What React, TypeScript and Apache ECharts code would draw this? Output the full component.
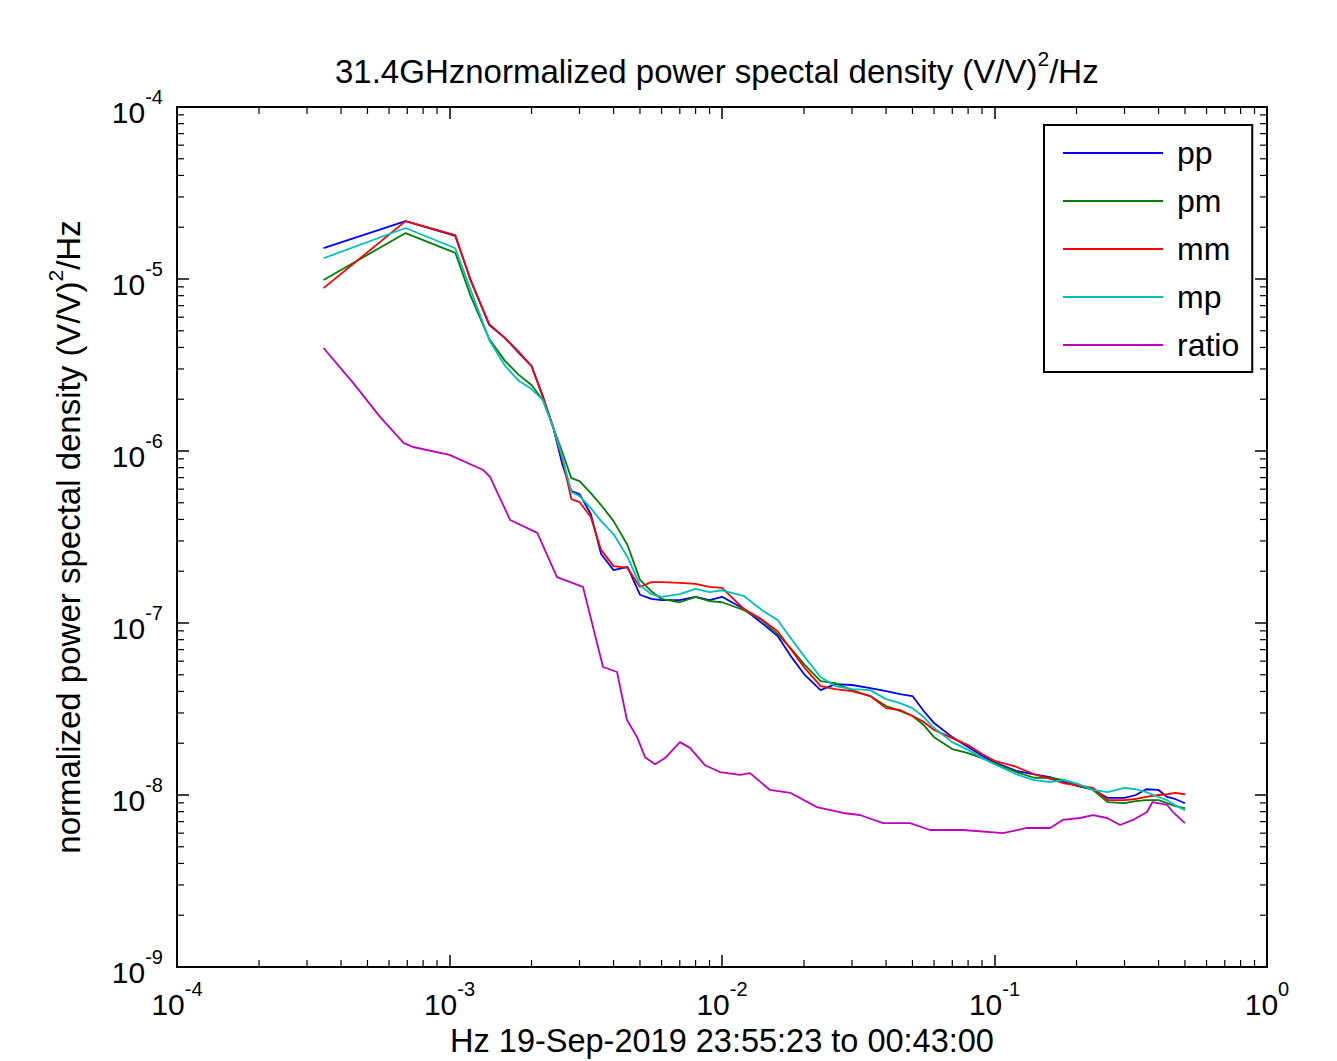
import React, { useEffect, useRef } from 'react';
import * as echarts from 'echarts';

// frequency grid (Hz) shared by the four channel spectra
const freq = [
  3.45e-4, 6.9e-4, 1.05e-3, 1.2e-3, 1.4e-3, 1.6e-3, 1.8e-3, 2.0e-3, 2.2e-3, 2.4e-3,
  2.6e-3, 2.8e-3, 3.0e-3, 3.3e-3, 3.6e-3, 4.0e-3, 4.5e-3, 5.0e-3, 5.5e-3, 6.0e-3,
  7.0e-3, 8.0e-3, 9.0e-3, 1.0e-2, 1.2e-2, 1.4e-2, 1.6e-2, 1.8e-2, 2.0e-2, 2.3e-2,
  2.6e-2, 3.0e-2, 3.5e-2, 4.0e-2, 4.5e-2, 5.0e-2, 5.5e-2, 6.0e-2, 7.0e-2, 8.0e-2,
  9.0e-2, 0.1, 0.12, 0.14, 0.16, 0.18, 0.2, 0.23, 0.26, 0.3,
  0.33, 0.36, 0.4, 0.43, 0.46, 0.5,
];

const pp = [
  1.51e-5, 2.17e-5, 1.78e-5, 9.74e-6, 5.39e-6, 4.53e-6, 3.71e-6, 3.12e-6, 2.09e-6, 1.38e-6,
  8.27e-7, 5.85e-7, 5.61e-7, 4.30e-7, 2.52e-7, 2.03e-7, 2.12e-7, 1.46e-7, 1.38e-7, 1.36e-7,
  1.36e-7, 1.42e-7, 1.36e-7, 1.42e-7, 1.21e-7, 1.00e-7, 8.39e-8, 6.33e-8, 5.05e-8, 4.07e-8,
  4.41e-8, 4.36e-8, 4.18e-8, 4.02e-8, 3.86e-8, 3.76e-8, 3.08e-8, 2.62e-8, 2.17e-8, 1.90e-8,
  1.69e-8, 1.55e-8, 1.38e-8, 1.32e-8, 1.27e-8, 1.19e-8, 1.13e-8, 1.08e-8, 9.61e-9, 9.61e-9,
  1.00e-8, 1.08e-8, 1.07e-8, 9.74e-9, 9.48e-9, 8.96e-9,
];

const pm = [
  9.87e-6, 1.85e-5, 1.42e-5, 7.84e-6, 4.47e-6, 3.33e-6, 2.76e-6, 2.42e-6, 1.98e-6, 1.38e-6,
  9.74e-7, 6.95e-7, 6.68e-7, 5.69e-7, 4.85e-7, 3.91e-7, 2.84e-7, 1.78e-7, 1.53e-7, 1.38e-7,
  1.32e-7, 1.42e-7, 1.34e-7, 1.32e-7, 1.19e-7, 1.04e-7, 8.61e-8, 7.05e-8, 5.77e-8, 4.59e-8,
  4.47e-8, 4.07e-8, 3.76e-8, 3.29e-8, 3.08e-8, 2.88e-8, 2.55e-8, 2.17e-8, 1.85e-8, 1.75e-8,
  1.64e-8, 1.53e-8, 1.36e-8, 1.26e-8, 1.26e-8, 1.22e-8, 1.14e-8, 1.07e-8, 9.09e-9, 8.96e-9,
  9.21e-9, 9.33e-9, 9.33e-9, 8.96e-9, 8.61e-9, 8.39e-9,
];

const mm = [
  8.85e-6, 2.17e-5, 1.80e-5, 9.61e-6, 5.47e-6, 4.53e-6, 3.76e-6, 3.12e-6, 2.06e-6, 1.38e-6,
  8.85e-7, 5.25e-7, 5.05e-7, 4.13e-7, 2.66e-7, 2.14e-7, 2.09e-7, 1.62e-7, 1.73e-7, 1.73e-7,
  1.71e-7, 1.69e-7, 1.62e-7, 1.60e-7, 1.21e-7, 1.05e-7, 8.96e-8, 6.95e-8, 5.54e-8, 4.30e-8,
  4.13e-8, 4.02e-8, 3.76e-8, 3.20e-8, 3.12e-8, 2.88e-8, 2.66e-8, 2.39e-8, 2.14e-8, 1.95e-8,
  1.73e-8, 1.58e-8, 1.46e-8, 1.32e-8, 1.24e-8, 1.17e-8, 1.14e-8, 1.10e-8, 9.33e-9, 9.33e-9,
  9.48e-9, 9.74e-9, 1.00e-8, 1.01e-8, 1.03e-8, 1.01e-8,
];

const mp = [
  1.32e-5, 1.98e-5, 1.51e-5, 8.50e-6, 4.41e-6, 3.12e-6, 2.55e-6, 2.29e-6, 1.98e-6, 1.38e-6,
  9.09e-7, 5.77e-7, 5.47e-7, 4.66e-7, 3.91e-7, 3.29e-7, 2.42e-7, 1.66e-7, 1.47e-7, 1.42e-7,
  1.47e-7, 1.58e-7, 1.51e-7, 1.55e-7, 1.44e-7, 1.19e-7, 1.04e-7, 8.05e-8, 6.42e-8, 4.85e-8,
  4.30e-8, 4.13e-8, 4.07e-8, 3.61e-8, 3.42e-8, 3.20e-8, 2.84e-8, 2.45e-8, 2.03e-8, 1.83e-8,
  1.64e-8, 1.51e-8, 1.32e-8, 1.22e-8, 1.19e-8, 1.22e-8, 1.17e-8, 1.07e-8, 1.04e-8, 1.10e-8,
  1.08e-8, 1.04e-8, 9.74e-9, 9.33e-9, 8.73e-9, 8.16e-9,
];

const ratioFreq = [
  3.45e-4, 4.43e-4, 5.56e-4, 6.8e-4, 7.35e-4, 1.0e-3, 1.33e-3, 1.41e-3, 1.67e-3, 2.1e-3,
  2.48e-3, 3.09e-3, 3.66e-3, 4.12e-3, 4.48e-3, 4.88e-3, 5.22e-3, 5.68e-3, 6.18e-3, 7.01e-3,
  7.63e-3, 8.66e-3, 9.83e-3, 1.164e-2, 1.267e-2, 1.5e-2, 1.78e-2, 2.23e-2, 2.78e-2, 3.21e-2,
  3.9e-2, 4.9e-2, 5.8e-2, 7.66e-2, 0.1075, 0.1316, 0.16, 0.178, 0.206, 0.23,
  0.259, 0.289, 0.322, 0.363, 0.38, 0.43, 0.452, 0.5,
];

const ratio = [
  3.97e-6, 2.49e-6, 1.58e-6, 1.11e-6, 1.055e-6, 9.5e-7, 7.75e-7, 7.06e-7, 3.97e-7, 3.34e-7,
  1.85e-7, 1.62e-7, 5.55e-8, 5.19e-8, 2.73e-8, 2.17e-8, 1.66e-8, 1.51e-8, 1.64e-8, 2.03e-8,
  1.88e-8, 1.49e-8, 1.36e-8, 1.31e-8, 1.34e-8, 1.07e-8, 1.03e-8, 8.5e-9, 7.86e-9, 7.65e-9,
  6.87e-9, 6.87e-9, 6.26e-9, 6.26e-9, 6.01e-9, 6.43e-9, 6.43e-9, 7.16e-9, 7.35e-9, 7.65e-9,
  7.35e-9, 6.69e-9, 7.16e-9, 7.96e-9, 9.1e-9, 8.75e-9, 7.96e-9, 6.87e-9,
];

const seriesNames = ['pp', 'pm', 'mm', 'mp', 'ratio'];
const seriesColors = ['#0000ff', '#008000', '#ff0000', '#00bfbf', '#bf00bf'];

const titleText = '31.4GHznormalized power spectal density (V/V)';
const yNameText = 'normalized power spectal density (V/V)';
const xNameText = 'Hz 19-Sep-2019 23:55:23 to 00:43:00';

const X_MIN = 1e-4;
const X_MAX = 1;
const Y_MIN = 1e-9;
const Y_MAX = 1e-4;

const FONT = "'Liberation Sans', Arial, Helvetica, sans-serif";

// minor tick positions (2..9 within each decade)
const minorX: number[] = [];
for (let n = -4; n < 0; n++) for (let k = 2; k <= 9; k++) minorX.push(k * Math.pow(10, n));
const minorY: number[] = [];
for (let n = -9; n < -4; n++) for (let k = 2; k <= 9; k++) minorY.push(k * Math.pow(10, n));

const expLabel = (v: number) => {
  const e = Math.round(Math.log10(v));
  return '{b|10}{e|' + e + '}';
};

const labelRich = {
  b: { fontSize: 30, lineHeight: 40, verticalAlign: 'bottom', fontFamily: FONT, fontWeight: 'normal', color: '#000' },
  e: { fontSize: 20, lineHeight: 20, verticalAlign: 'top', fontFamily: FONT, fontWeight: 'normal', color: '#000' },
};

const titleRich = {
  a: { fontSize: 33, lineHeight: 40, verticalAlign: 'bottom', fontFamily: FONT, fontWeight: 'normal', color: '#000' },
  s: { fontSize: 21, lineHeight: 20, verticalAlign: 'top', fontFamily: FONT, fontWeight: 'normal', color: '#000' },
};

const nameRich = {
  a: { fontSize: 33, lineHeight: 40, verticalAlign: 'bottom', fontFamily: FONT, fontWeight: 'normal', color: '#000' },
  s: { fontSize: 21, lineHeight: 20, verticalAlign: 'top', fontFamily: FONT, fontWeight: 'normal', color: '#000' },
};

export default function App() {
  const ref = useRef<HTMLDivElement>(null);

  useEffect(() => {
    if (!ref.current) return;
    const chart = echarts.init(ref.current, undefined, { renderer: 'svg' });

    const axisLine = { show: true, onZero: false, lineStyle: { color: '#000', width: 2 } };
    const majorTick = { show: true, inside: true, length: 12, lineStyle: { color: '#000', width: 1.5 } };

    const lineSeries: any[] = [pp, pm, mm, mp].map((vals, i) => ({
      name: seriesNames[i],
      type: 'line',
      data: freq.map((f, j) => [f, vals[j]]),
      showSymbol: false,
      symbol: 'none',
      lineStyle: { color: seriesColors[i], width: 1.8 },
      itemStyle: { color: seriesColors[i] },
      emphasis: { disabled: true },
    }));
    lineSeries.push({
      name: 'ratio',
      type: 'line',
      data: ratioFreq.map((f, j) => [f, ratio[j]]),
      showSymbol: false,
      symbol: 'none',
      lineStyle: { color: seriesColors[4], width: 1.8 },
      itemStyle: { color: seriesColors[4] },
      emphasis: { disabled: true },
    });

    const minorXSeries = {
      type: 'custom',
      silent: true,
      clip: false,
      z: 5,
      data: minorX.map((v) => [v, 1e-6]),
      renderItem: (params: any, api: any) => {
        const v = api.value(0);
        const b = api.coord([v, Y_MIN]);
        const t = api.coord([v, Y_MAX]);
        const style = { stroke: '#000', lineWidth: 1.2 };
        return {
          type: 'group',
          children: [
            { type: 'line', shape: { x1: b[0], y1: b[1], x2: b[0], y2: b[1] - 7 }, style },
            { type: 'line', shape: { x1: t[0], y1: t[1], x2: t[0], y2: t[1] + 7 }, style },
          ],
        };
      },
    };

    const minorYSeries = {
      type: 'custom',
      silent: true,
      clip: false,
      z: 5,
      data: minorY.map((v) => [1e-2, v]),
      renderItem: (params: any, api: any) => {
        const v = api.value(1);
        const l = api.coord([X_MIN, v]);
        const r = api.coord([X_MAX, v]);
        const style = { stroke: '#000', lineWidth: 1.2 };
        return {
          type: 'group',
          children: [
            { type: 'line', shape: { x1: l[0], y1: l[1], x2: l[0] + 7, y2: l[1] }, style },
            { type: 'line', shape: { x1: r[0], y1: r[1], x2: r[0] - 7, y2: r[1] }, style },
          ],
        };
      },
    };

    const option: any = {
      animation: false,
      backgroundColor: '#ffffff',
      textStyle: { fontFamily: FONT },
      title: {
        text: '{a|' + titleText + '}{s|2}{a|/Hz}',
        left: 335,
        top: 48,
        padding: 0,
        textStyle: { fontWeight: 'normal', rich: titleRich },
      },
      grid: {
        left: 177,
        right: 70,
        top: 107,
        bottom: 94,
        containLabel: false,
        outerBoundsMode: 'none',
      },
      legend: {
        data: seriesNames,
        orient: 'vertical',
        left: 1044,
        top: 125,
        itemWidth: 100,
        itemHeight: 2,
        itemGap: 16,
        icon: 'rect',
        padding: [12, 13, 11, 19],
        borderColor: '#000',
        borderWidth: 2,
        backgroundColor: '#fff',
        selectedMode: false,
        textStyle: { fontSize: 32, lineHeight: 32, fontFamily: FONT, color: '#000', padding: [0, 0, 0, 9] },
      },
      xAxis: [
        {
          type: 'log',
          logBase: 10,
          min: X_MIN,
          max: X_MAX,
          position: 'bottom',
          axisLine,
          axisTick: majorTick,
          splitLine: { show: false },
          axisLabel: { formatter: expLabel, rich: labelRich, margin: 12 },
          name: xNameText,
          nameLocation: 'middle',
          nameGap: 55,
          nameTextStyle: { fontSize: 32.5, lineHeight: 34, fontFamily: FONT, color: '#000' },
        },
        {
          type: 'log',
          logBase: 10,
          min: X_MIN,
          max: X_MAX,
          position: 'top',
          axisLine,
          axisTick: majorTick,
          splitLine: { show: false },
          axisLabel: { show: false },
        },
      ],
      yAxis: [
        {
          type: 'log',
          logBase: 10,
          min: Y_MIN,
          max: Y_MAX,
          position: 'left',
          axisLine,
          axisTick: majorTick,
          splitLine: { show: false },
          axisLabel: { formatter: expLabel, rich: labelRich, margin: 14 },
          name: '{a|' + yNameText + '}{s|2}{a|/Hz}',
          nameLocation: 'middle',
          nameRotate: 90,
          nameGap: 92,
          nameTextStyle: { rich: nameRich },
        },
        {
          type: 'log',
          logBase: 10,
          min: Y_MIN,
          max: Y_MAX,
          position: 'right',
          axisLine,
          axisTick: majorTick,
          splitLine: { show: false },
          axisLabel: { show: false },
        },
      ],
      series: [...lineSeries, minorXSeries, minorYSeries],
    };

    chart.setOption(option);
    return () => chart.dispose();
  }, []);

  return (
    <div
      ref={ref}
      style={{ position: 'absolute', left: 0, top: 0, width: 1337, height: 1061, background: '#fff' }}
    />
  );
}
